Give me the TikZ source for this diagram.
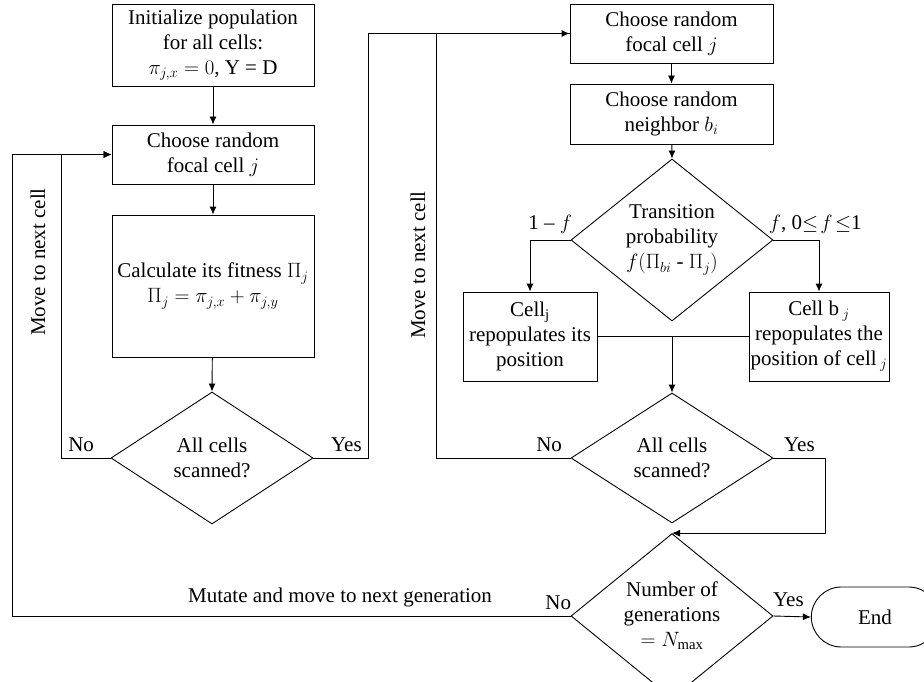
\documentclass[tikz,border=0pt]{standalone}
\usepackage{fontspec}
\setmainfont{Liberation Serif}
\usetikzlibrary{arrows.meta, shapes.geometric, shapes.misc}

\begin{document}
\begin{tikzpicture}[x=1pt, y=-1pt, >={Latex[length=8pt, width=7pt]},
  font=\fontsize{21}{25}\selectfont, line width=0.9pt]
\tikzstyle{process}=[draw, rectangle, align=center, inner sep=0pt]
\tikzstyle{decision}=[draw, diamond, align=center, inner sep=0pt, minimum width=202pt, minimum height=132pt]
\tikzstyle{terminal}=[draw, rounded rectangle, minimum width=134pt, minimum height=60pt]
\tikzstyle{edge label}=[inner sep=1pt, above=5pt]

\clip (0,0) rectangle (924,682);

% Left column
\node[process, minimum width=202pt, minimum height=82pt] (init) at (213,45)
  {Initialize population\\for all cells:\\$\pi_{j,x} = 0$, Y = D};
\node[process, minimum width=202pt, minimum height=59pt] (focal1) at (213,154.5)
  {Choose random\\focal cell $j$};
\node[process, minimum width=202pt, minimum height=142pt] (fitness) at (213,286)
  {Calculate its fitness $\Pi_j$\\$\Pi_j = \pi_{j,x} + \pi_{j,y}$};
\node[decision] (scan1) at (212,458) {All cells\\scanned?};

% Right column
\node[process, minimum width=203pt, minimum height=59pt] (focal2) at (671.5,33.5)
  {Choose random\\focal cell $j$};
\node[process, minimum width=203pt, minimum height=60pt] (neighbor) at (671.5,114)
  {Choose random\\neighbor $b_i$};
\node[decision, minimum height=130pt] (transition) at (672,240)
  {Transition\\probability\\$f(\Pi_{bi}$ - $\Pi_j)$};
\node[process, minimum width=134pt, minimum height=89pt] (cellj) at (530,336.5)
  {Cell$_{\mathrm{j}}$\\repopulates its\\position};
\node[process, minimum width=140pt, minimum height=89pt] (cellb) at (819,336.5)
  {Cell b\,$_j$\\repopulates the\\position of cell\,$_j$};
\node[decision, minimum height=130pt] (scan2) at (672,458) {All cells\\scanned?};
\node[decision, minimum height=130pt] (generations) at (672,616)
  {Number of\\generations\\$= N_{\max}$};
\node[terminal] (end) at (875,617) {End};

% Flow
\draw[->] (init) -- (focal1);
\draw[->] (focal1) -- (fitness);
\draw[->] (fitness) -- (scan1.north);
\draw[->] (scan1.west) -- node[edge label, pos=0.6] {No} ++(-49,0) |- (focal1.west);
\draw[->] (scan1.east) -- node[edge label, pos=0.6] {Yes} ++(55,0) |- (focal2.west);
\draw[->] (focal2) -- (neighbor);
\draw[->] (neighbor) -- (transition.north);
\draw[->] (transition.west) -| node[edge label, pos=0.25] {1 -- $f$} (cellj.north);
\draw[->] (transition.east) -| node[edge label, pos=0.25, xshift=19pt] {$f$, 0$\leq\! f\!\leq$1} (cellb.north);
\draw (cellj.east) -- (cellb.west);
\draw[->] (cellj.east -| scan2.north) -- (scan2.north);
\draw (scan2.west) -- node[edge label, pos=0.16] {No} ++(-134,0) |- (focal2.west);
\draw[->] (scan2.east) -- node[edge label, pos=0.5] {Yes} ++(52,0) |- (generations.north);
\draw[->] (generations.west) -- node[edge label, pos=0.022] {No} ++(-558,0) |- (focal1.west);
\draw[->] (generations.east) -- node[edge label, pos=0.4, above=3pt] {Yes} (end.west);

% Side labels
\node[rotate=90] (move1) at (38,262) {Move to next cell};
\node[rotate=90] (move2) at (418,265) {Move to next cell};
\node (mutate) at (340,597) {Mutate and move to next generation};
\end{tikzpicture}
\end{document}
